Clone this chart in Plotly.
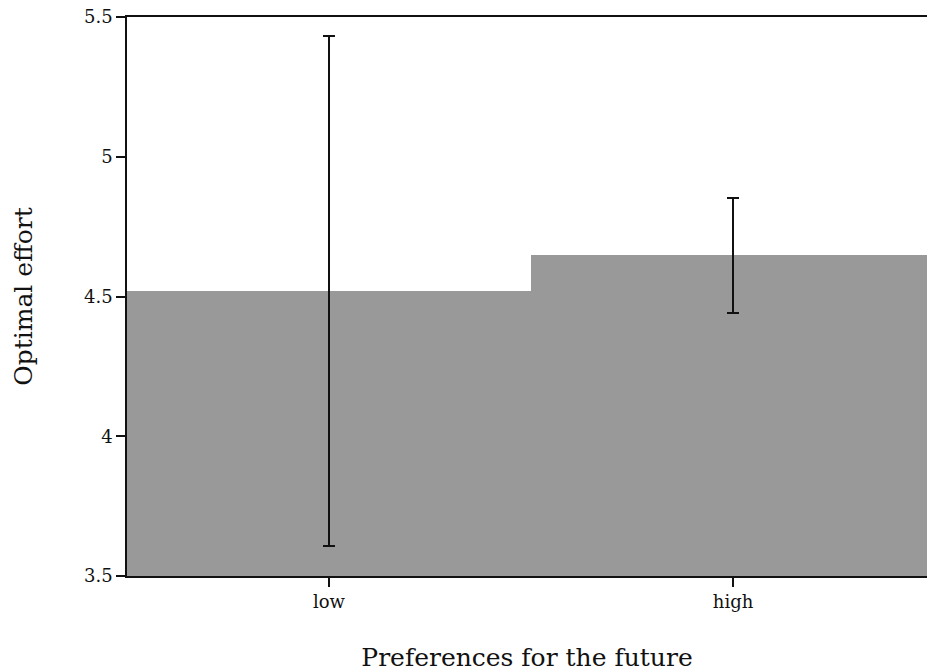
import plotly.graph_objects as go

categories = ["low", "high"]
means = [4.52, 4.648]
ci_low = [3.607, 4.440]
ci_high = [5.432, 4.853]

err_plus = [h - m for h, m in zip(ci_high, means)]
err_minus = [m - l for m, l in zip(means, ci_low)]

font_family = "DejaVu Serif, Liberation Serif, serif"

fig = go.Figure()
fig.add_trace(go.Bar(
    x=[0, 1],
    y=means,
    marker=dict(color="#999999", line=dict(width=0)),
    error_y=dict(type="data", symmetric=False, array=err_plus, arrayminus=err_minus,
                 color="#111111", thickness=2, width=6),
    width=1,
))

fig.update_layout(
    width=927, height=672,
    margin=dict(l=127, r=0, t=17, b=96),
    plot_bgcolor="white", paper_bgcolor="white",
    bargap=0,
    showlegend=False,
    font=dict(family=font_family, color="#111111"),
    xaxis=dict(
        range=[-0.5, 1.48],
        tickmode="array", tickvals=[0, 1], ticktext=categories,
        showline=True, linecolor="#111111", linewidth=1.5, mirror=True,
        ticks="outside", ticklen=9, tickcolor="#111111", tickwidth=1.5,
        showgrid=False, zeroline=False,
        tickfont=dict(size=18, family=font_family),
        title=dict(text="Preferences for the future", font=dict(size=25, family=font_family), standoff=40),
    ),
    yaxis=dict(
        range=[3.5, 5.5],
        tickmode="array", tickvals=[3.5, 4, 4.5, 5, 5.5], ticktext=["3.5", "4", "4.5", "5", "5.5"],
        showline=True, linecolor="#111111", linewidth=1.5,
        ticks="outside", ticklen=9, tickcolor="#111111", tickwidth=1.5,
        showgrid=False, zeroline=False,
        tickfont=dict(size=18, family=font_family),
        title=dict(text="Optimal effort", font=dict(size=25, family=font_family), standoff=44),
    ),
)

fig.write_html("out.html")
